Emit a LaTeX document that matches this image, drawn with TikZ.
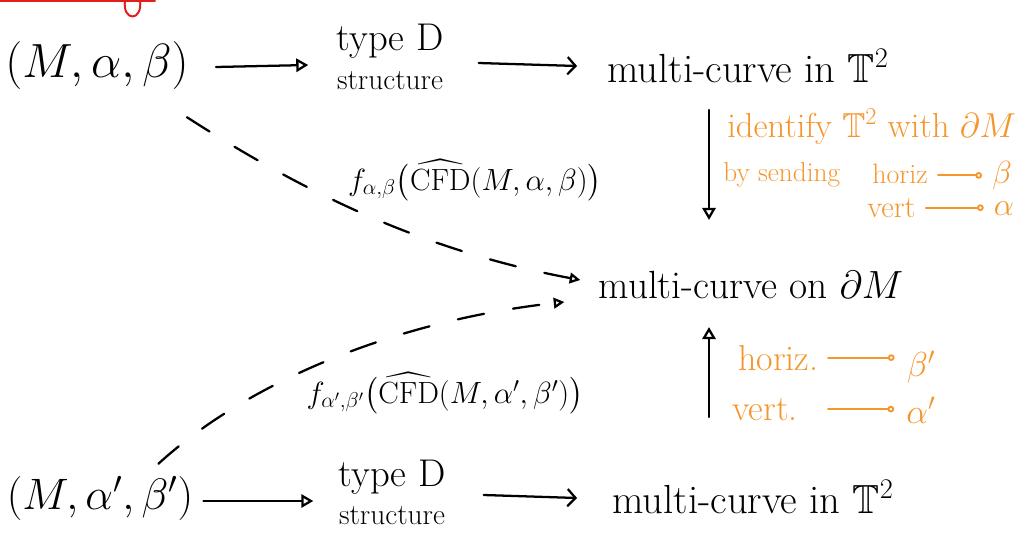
\RequirePackage{fix-cm}
\documentclass[tikz,border=0pt]{standalone}
\usepackage{amsmath,amssymb}
\usepackage{fontspec}
\usetikzlibrary{arrows.meta,calc}
\definecolor{handorange}{RGB}{245,150,45}
\definecolor{handred}{RGB}{225,30,30}
\tikzset{
  ink/.style={line width=1.7pt, line cap=round, line join=round},
  openarrow/.style={ink, -{Triangle[open, length=9pt, width=10pt, line width=1.7pt]}},
  chevarrow/.style={ink, -{Straight Barb[length=6pt, width=13pt, line width=1.7pt]}},
  dashline/.style={ink, dash pattern=on 20pt off 22pt, -{Triangle[open, length=8pt, width=8pt, line width=1.7pt]}},
  orangearrow/.style={draw=handorange, line width=1.4pt, line cap=round, -{Circle[open, length=5pt, line width=1.4pt]}},
  lbl/.style={inner sep=0pt, anchor=center},
  otext/.style={lbl, text=handorange},
  big/.style={font=\fontsize{36}{40}\selectfont},
  mid/.style={font=\fontsize{30.5}{34}\selectfont},
  lab/.style={font=\fontsize{23}{27}\selectfont},
}
\begin{document}
\begin{tikzpicture}[x=0.75pt, y=-0.75pt]
\useasboundingbox (0,0) rectangle (1033,543);
% red fragment at the top
\draw[handred, line width=1.5pt, line cap=round] (0,1) -- (155,1);
\draw[handred, line width=1.5pt, line cap=round] (125,0) .. controls (122,22) and (143,22) .. (140,0);

% nodes
\node[lbl, big] (A1) at (97,65) {$(M,\alpha,\beta)$};
\node[lbl, align=center] (B1) at (390,57) {\fontsize{29}{32}\selectfont type D\\[9pt]\fontsize{22}{24}\selectfont structure};
\node[lbl, mid] (C1) at (748,66) {multi-curve in $\mathbb{T}^2$};
\node[lbl, font=\fontsize{29.5}{33}\selectfont] (D) at (751,285) {multi-curve on $\partial M$};
\node[lbl, font=\fontsize{33}{38}\selectfont] (A2) at (100,498) {$(M,\alpha',\beta')$};
\node[lbl, align=center] (B2) at (392,492) {\fontsize{29}{32}\selectfont type D\\[8pt]\fontsize{22}{24}\selectfont structure};
\node[lbl, mid] (C2) at (753,497) {multi-curve in $\mathbb{T}^2$};

% labels of dashed connectors
\node[lbl, lab] (L1) at (475,180) {$f_{\alpha,\beta}\bigl(\widehat{\mathrm{CFD}}(M,\alpha,\beta)\bigr)$};
\node[lbl, lab] (L2) at (445,393) {$f_{\alpha',\beta'}\bigl(\widehat{\mathrm{CFD}}(M,\alpha',\beta')\bigr)$};

% horizontal arrows
\draw[openarrow] ($(A1.east)+(27,2)$) -- ($(B1.west |- A1.east)+(-28,0)$);
\draw[chevarrow] ($(B1.east |- C1.west)+(35,-3)$) -- ($(C1.west)+(-30,0)$);
\draw[openarrow] ($(A2.east)+(10,3)$) -- ($(B2.west |- A2.east)+(-25,3)$);
\draw[chevarrow] ($(B2.east |- C2.west)+(38,-2)$) -- ($(C2.west)+(-35,1)$);

% vertical arrows
\coordinate (vx) at (709,0);
\draw[openarrow] ($(C1.south -| vx)+(0,27)$) -- ($(D.north -| vx)+(0,-51)$);
\draw[openarrow] ($(C2.north -| vx)+(0,-63)$) -- ($(D.south -| vx)+(0,28)$);

% dashed connectors
\draw[dashline] ($(A1.south east)+(-2,28)$) .. controls (300,190) and (420,250) .. ($(D.west)+(-18,-5)$);
\draw[dashline] ($(A2.north east)+(-35,-12)$) .. controls (250,380) and (400,320) .. ($(D.west)+(-34,17)$);

% orange notes, top
\node[otext, font=\fontsize{26}{30}\selectfont, anchor=base west] (O1) at (727,137) {identify $\mathbb{T}^2$ with $\partial M$};
\node[otext, font=\fontsize{20.5}{24}\selectfont, anchor=base west] (O2) at (723,181) {by sending};
\node[otext, font=\fontsize{21}{25}\selectfont, anchor=base west] (H1) at (872,183) {horiz};
\node[otext, font=\fontsize{23}{25}\selectfont, anchor=base west] (V1) at (867,217) {vert};
\node[otext, font=\fontsize{24}{28}\selectfont] (Bt1) at (1002,175) {$\beta$};
\node[otext, font=\fontsize{24}{28}\selectfont] (At1) at (1004,209) {$\alpha$};
\draw[orangearrow] ($(H1.east)+(10,2)$) -- ($(H1.east -| Bt1.west)+(-10,2)$);
\draw[orangearrow] ($(V1.east)+(10,0)$) -- ($(V1.east -| At1.west)+(-10,0)$);

% orange notes, bottom
\node[otext, font=\fontsize{27}{30}\selectfont, anchor=base west] (H2) at (738,370) {horiz.};
\node[otext, font=\fontsize{27}{30}\selectfont, anchor=base west] (V2) at (732,420) {vert.};
\node[otext, font=\fontsize{26}{28}\selectfont] (Bt2) at (921,367) {$\beta'$};
\node[otext, font=\fontsize{26}{28}\selectfont] (At2) at (921,410) {$\alpha'$};
\draw[orangearrow] (H2.east -| 828,0) -- ($(H2.east -| Bt2.west)+(-12,0)$);
\draw[orangearrow] (V2.east -| 828,0) -- ($(V2.east -| At2.west)+(-12,0)$);
\end{tikzpicture}
\end{document}
